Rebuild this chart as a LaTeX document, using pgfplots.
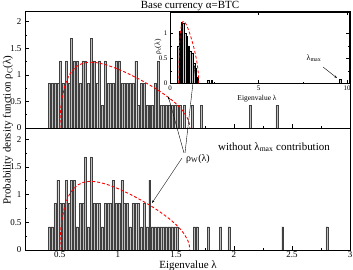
\documentclass[border=0pt]{standalone}
\usepackage{fontspec}
\setmainfont{Liberation Serif}
\usepackage{pgfplots}
\usepackage{pgfplotstable}
\pgfplotsset{compat=1.18}
\usetikzlibrary{arrows.meta}

\pgfplotstableread{
x y
0.410 0.84
0.434 0.84
0.458 0.84
0.482 0.84
0.506 1.26
0.530 0.84
0.554 1.26
0.578 0.84
0.602 1.68
0.626 1.26
0.650 1.26
0.674 0.84
0.698 1.26
0.722 1.26
0.746 0.84
0.770 1.68
0.794 1.26
0.818 0.84
0.842 1.26
0.866 0.42
0.890 1.26
0.914 0.84
0.938 0.84
0.962 0.84
0.986 1.26
1.010 1.26
1.034 0.84
1.058 0.84
1.082 0.84
1.106 0.84
1.130 0.84
1.154 1.26
1.178 0.42
1.202 0.84
1.226 0.84
1.250 0.42
1.274 0.42
1.298 0.42
1.322 0.84
1.346 1.26
1.370 0.42
1.394 0.42
1.418 0.42
1.442 0.42
1.466 0.42
1.490 0.42
1.514 0.42
1.538 0.42
1.570 0.42
1.640 0.42
1.720 0.42
2.140 0.42
2.370 0.42
}\toptab

\pgfplotstableread{
x y
0.410 0.42
0.434 0.42
0.458 0.84
0.482 1.26
0.506 0.84
0.530 0.84
0.554 1.26
0.578 0.84
0.602 1.26
0.626 1.26
0.650 0.42
0.674 0.84
0.698 0.84
0.722 1.68
0.746 0.42
0.770 1.68
0.794 0.84
0.818 0.84
0.842 0.84
0.866 0.42
0.890 0.84
0.914 0.84
0.938 0.84
0.962 1.26
0.986 0.84
1.010 0.84
1.034 1.26
1.058 0.84
1.082 0.84
1.106 0.42
1.130 0.84
1.154 0.84
1.178 0.84
1.202 0.42
1.226 0.84
1.250 0.42
1.274 1.26
1.298 0.42
1.322 0.42
1.346 0.42
1.370 0.42
1.394 0.42
1.418 0.42
1.442 0.42
1.466 0.42
1.490 0.42
1.514 0.42
1.658 0.42
1.682 0.42
1.778 0.42
1.885 0.42
1.957 0.42
2.420 0.42
2.800 0.42
}\bottab

\pgfplotstableread{
x y
0.45 0.75
0.55 1.05
0.65 1.23
0.75 1.20
0.85 1.00
0.95 0.95
1.05 0.75
1.15 0.65
1.25 0.60
1.35 0.40
1.45 0.30
1.55 0.12
2.15 0.06
2.35 0.06
9.60 0.08
}\instab

\pgfplotstableread{
x y
0.500 0
0.505 0.294
0.510 0.411
0.520 0.568
0.540 0.766
0.560 0.896
0.580 0.990
0.600 1.059
0.650 1.168
0.700 1.219
0.750 1.237
0.800 1.234
0.850 1.215
0.900 1.187
0.950 1.150
1.000 1.108
1.050 1.061
1.100 1.011
1.150 0.956
1.200 0.899
1.250 0.839
1.300 0.775
1.350 0.706
1.400 0.632
1.450 0.552
1.500 0.460
1.540 0.373
1.570 0.293
1.600 0.184
1.610 0.130
1.615 0.092
1.620 0
}\mptab

\begin{document}
\begin{tikzpicture}
\useasboundingbox (0,0) rectangle (353bp,270bp);
\pgfplotsset{
  mainax/.style={scale only axis, width=325bp, xmin=0.2, xmax=3, ymin=0, ymax=2.2,
    xtick={0.5,1,1.5,2,2.5,3}, ytick={0,0.5,1,1.5,2},
    minor x tick num=1, minor y tick num=1,
    xtick pos=bottom, ytick pos=left, tick align=inside,
    major tick length=4bp, minor tick length=2bp,
    axis line style={line width=0.6pt}, tick style={line width=0.5pt, black},
    /pgf/number format/assume math mode=true,
    tick label style={font=\fontsize{9}{10}\selectfont},
    xticklabel style={yshift=1.5bp},
    clip=true},
  mybars/.style={ybar, bar width=0.017, fill=gray!50, draw=black!75, line width=0.35pt},
  mpline/.style={red, line width=0.9pt, dash pattern=on 3pt off 2pt},
}
% top panel
\begin{axis}[mainax, at={(25bp,142bp)}, anchor=south west, height=117bp, xticklabels={}]
\addplot[mybars] table[x=x,y=y]{\toptab};
\addplot[mpline] table[x=x,y=y]{\mptab};
\end{axis}
% inset
\begin{axis}[scale only axis, at={(170bp,186.7bp)}, anchor=south west, width=179bp, height=71.3bp,
    xmin=0, xmax=10.1, ymin=0, ymax=1.426,
    xtick={0,5,10}, ytick={0,0.5,1}, minor x tick num=1, minor y tick num=1,
    tick align=inside, major tick length=3bp, minor tick length=1.5bp,
    axis background/.style={fill=white},
    axis line style={line width=0.6pt}, tick style={line width=0.5pt, black},
    /pgf/number format/assume math mode=true,
    tick label style={font=\fontsize{7}{8}\selectfont},
    xticklabel style={yshift=1bp}, yticklabel style={xshift=1bp}]
\addplot[ybar, bar width=0.085, fill=gray!45, draw=black, line width=0.35pt] table[x=x,y=y]{\instab};
\addplot[mpline, line width=0.8pt] table[x=x,y=y]{\mptab};
\end{axis}
% bottom panel
\begin{axis}[mainax, at={(25bp,20bp)}, anchor=south west, height=122bp]
\addplot[mybars] table[x=x,y=y]{\bottab};
\addplot[mpline] table[x=x,y=y]{\mptab};
\end{axis}
% texts
\node[font=\fontsize{11}{12}\selectfont] at (190bp,264bp) {Base currency α=BTC};
\node[font=\fontsize{11}{12}\selectfont, rotate=90] at (8bp,140bp) {Probability density function ρ\textsubscript{C}(λ)};
\node[font=\fontsize{11}{12}\selectfont] at (188bp,4.5bp) {Eigenvalue λ};
\node[font=\fontsize{7.5}{8}\selectfont] at (257bp,171bp) {Eigenvalue λ};
\node[font=\fontsize{7.5}{8}\selectfont, rotate=90] at (158bp,223bp) {ρ\textsubscript{c}(λ)};
\node[font=\fontsize{8}{9}\selectfont] at (314bp,212bp) {λ\textsubscript{max}};
\draw[-{Stealth[length=3bp,width=2bp]}, line width=0.4pt] (323bp,203bp) -- (337bp,192bp);
\node[font=\fontsize{11}{12}\selectfont] at (274bp,123bp) {without λ\textsubscript{max} contribution};
\node[font=\fontsize{10}{11}\selectfont] at (198bp,111bp) {ρ\textsubscript{W}(λ)};
\draw[-{Stealth[length=3bp,width=2bp]}, line width=0.4pt] (184bp,117bp) -- (168.3bp,173.5bp);
\draw[-{Stealth[length=3bp,width=2bp]}, line width=0.4pt] (185bp,117bp) -- (195bp,205bp);
\draw[-{Stealth[length=3bp,width=2bp]}, line width=0.4pt] (182bp,112bp) -- (152bp,67bp);
\end{tikzpicture}
\end{document}
